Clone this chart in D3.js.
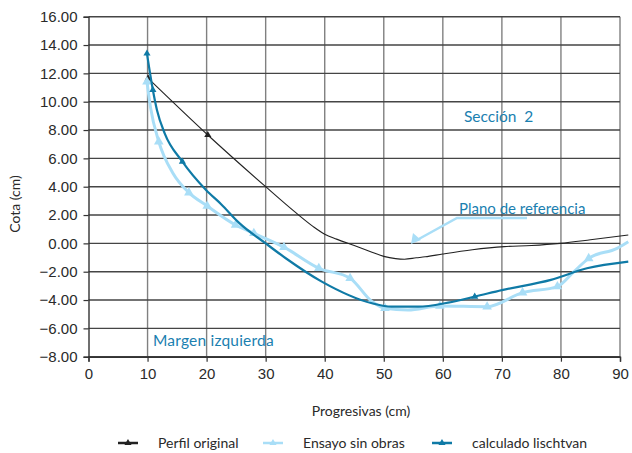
<!DOCTYPE html>
<html>
<head>
<meta charset="utf-8">
<script src="https://cdn.jsdelivr.net/npm/d3@7"></script>
<style>
  body { margin: 0; background: #fff; }
  svg { display: block; font-family: Lato, "Open Sans", sans-serif; }
</style>
</head>
<body>
<div id="chart"></div>
<script>
// tick values
var xTicks = [0, 10, 20, 30, 40, 50, 60, 70, 80, 90];
var yTicks = [-8, -6, -4, -2, 0, 2, 4, 6, 8, 10, 12, 14, 16];

// Perfil original
var perfilX = [10.1, 20.2, 30, 35, 38, 40, 42, 45, 48, 50, 52, 53.5, 55.5, 57, 60, 65, 70.4, 75, 79.9, 85, 91.4];
var perfilY = [11.65, 7.65, 4.0, 2.2, 1.2, 0.65, 0.3, -0.15, -0.62, -0.92, -1.08, -1.12, -1.02, -0.95, -0.75, -0.45, -0.23, -0.15, 0.0, 0.25, 0.59];
var perfilMarks = [0, 1];

// Ensayo sin obras
var ensayoX = [9.9, 10.5, 11.9, 14.3, 17.0, 20.1, 24.9, 28.0, 33.1, 39.0, 44.3, 48.0, 50.2, 54.1, 59.5, 67.5, 73.5, 79.4, 82.2, 84.7, 89.5, 91.4];
var ensayoY = [11.41, 9.6, 7.18, 4.95, 3.58, 2.64, 1.3, 0.71, -0.27, -1.76, -2.46, -4.11, -4.58, -4.70, -4.42, -4.47, -3.48, -3.05, -2.0, -1.06, -0.35, 0.12];
var ensayoMarks = [0, 2, 4, 5, 6, 7, 8, 9, 10, 12, 14, 15, 16, 17, 19];

// calculado lischtvan
var calcX = [9.9, 10.9, 11.6, 12.9, 15.9, 19.9, 22.5, 25.5, 30, 33.4, 39.5, 48, 51.3, 55.8, 60.9, 65.4, 70, 78.3, 84.4, 91.4];
var calcY = [13.4, 10.83, 9.4, 7.77, 5.77, 3.77, 2.75, 1.45, 0.0, -1.05, -2.70, -4.23, -4.47, -4.47, -4.18, -3.76, -3.3, -2.58, -1.76, -1.29];
var calcMarks = [0, 1, 4, 15];

var seriesNames = ["Perfil original", "Ensayo sin obras", "calculado lischtvan"];
var seriesColors = ["#222222", "#a9def7", "#0f7aa6"];

var svgWidth = 632, svgHeight = 453;
var svg = d3.select("#chart").append("svg")
  .attr("width", svgWidth)
  .attr("height", svgHeight);

var xScale = d3.scaleLinear().domain([0, 90]).range([88.5, 620]);
var yScale = d3.scaleLinear().domain([-8, 16]).range([356.7, 16.7]);

// gridlines
svg.append("g").selectAll("line")
  .data(xTicks.slice(1))
  .enter().append("line")
  .attr("x1", d => xScale(d)).attr("x2", d => xScale(d))
  .attr("y1", yScale(16)).attr("y2", yScale(-8))
  .attr("stroke", "#808080").attr("stroke-width", 1.4);

svg.append("g").selectAll("line")
  .data(yTicks)
  .enter().append("line")
  .attr("x1", xScale(0)).attr("x2", xScale(90))
  .attr("y1", d => yScale(d)).attr("y2", d => yScale(d))
  .attr("stroke", "#454545").attr("stroke-width", 1.4);

// axes
var yAxis = d3.axisLeft(yScale).tickValues(yTicks).tickFormat(d3.format(".2f")).tickSize(5).tickPadding(6);
var xAxis = d3.axisBottom(xScale).tickValues(xTicks).tickSize(5).tickPadding(7);

var yG = svg.append("g").attr("transform", `translate(${xScale(0)},0)`).call(yAxis);
var xG = svg.append("g").attr("transform", `translate(0,${yScale(-8)})`).call(xAxis);
[yG, xG].forEach(function(g) {
  g.select(".domain").attr("stroke", "#333").attr("stroke-width", 1.4);
  g.selectAll(".tick line").attr("stroke", "#333").attr("stroke-width", 1.2);
  g.selectAll("text").attr("fill", "#2a2a2a").style("font-size", "15px");
});

// lines
function pts(xs, ys) { return xs.map((x, i) => [x, ys[i]]); }
var line = d3.line().x(d => xScale(d[0])).y(d => yScale(d[1])).curve(d3.curveMonotoneX);

var series = [
  { pts: pts(perfilX, perfilY), marks: perfilMarks, width: 1.1 },
  { pts: pts(ensayoX, ensayoY), marks: ensayoMarks, width: 3 },
  { pts: pts(calcX, calcY), marks: calcMarks, width: 2.2 }
];

series.forEach(function(s, i) {
  svg.append("path")
    .datum(s.pts)
    .attr("d", line)
    .attr("fill", "none")
    .attr("stroke", seriesColors[i])
    .attr("stroke-width", s.width)
    .attr("stroke-linejoin", "round");
  svg.append("g").selectAll("path")
    .data(s.marks.map(k => s.pts[k]))
    .enter().append("path")
    .attr("d", d3.symbol().type(d3.symbolTriangle).size(i === 1 ? 40 : 22))
    .attr("transform", d => `translate(${xScale(d[0])},${yScale(d[1])})`)
    .attr("fill", seriesColors[i]);
});

// annotations
var teal = "#1a80b0";
svg.append("text").attr("x", 464).attr("y", 122).text("Sección  2")
  .attr("fill", teal).style("font-size", "15.5px").style("white-space", "pre");
svg.append("text").attr("x", 459).attr("y", 214).text("Plano de referencia")
  .attr("fill", teal).style("font-size", "15px");
svg.append("text").attr("x", 153).attr("y", 346).text("Margen izquierda")
  .attr("fill", teal).style("font-size", "15.5px").style("letter-spacing", "0.2px");

// arrow
svg.append("path")
  .attr("d", d3.line()([[527, 218], [457, 218], [417, 240]]))
  .attr("fill", "none").attr("stroke", "#a9def7").attr("stroke-width", 2.5);
svg.append("path")
  .attr("d", "M411,244 L413,233 L421,240 Z")
  .attr("fill", "#a9def7");

// axis titles
svg.append("text").attr("x", 361).attr("y", 416).attr("text-anchor", "middle")
  .text("Progresivas (cm)").attr("fill", "#2a2a2a").style("font-size", "14px");
svg.append("text").attr("transform", "translate(20,204) rotate(-90)").attr("text-anchor", "middle")
  .text("Cota (cm)").attr("fill", "#2a2a2a").style("font-size", "14px");

// legend
var legendX = [118, 263, 432];
var legend = svg.append("g").selectAll("g")
  .data(seriesNames)
  .enter().append("g")
  .attr("transform", (d, i) => `translate(${legendX[i]},443)`);
legend.append("line")
  .attr("x1", 0).attr("x2", 20).attr("y1", 0).attr("y2", 0)
  .attr("stroke", (d, i) => seriesColors[i]).attr("stroke-width", 2.5);
legend.append("path")
  .attr("d", d3.symbol().type(d3.symbolTriangle).size(22))
  .attr("transform", "translate(10,0)")
  .attr("fill", (d, i) => seriesColors[i]);
legend.append("text")
  .attr("x", 40).attr("y", 5)
  .text(d => d).attr("fill", "#2a2a2a").style("font-size", "14px");
</script>
</body>
</html>
